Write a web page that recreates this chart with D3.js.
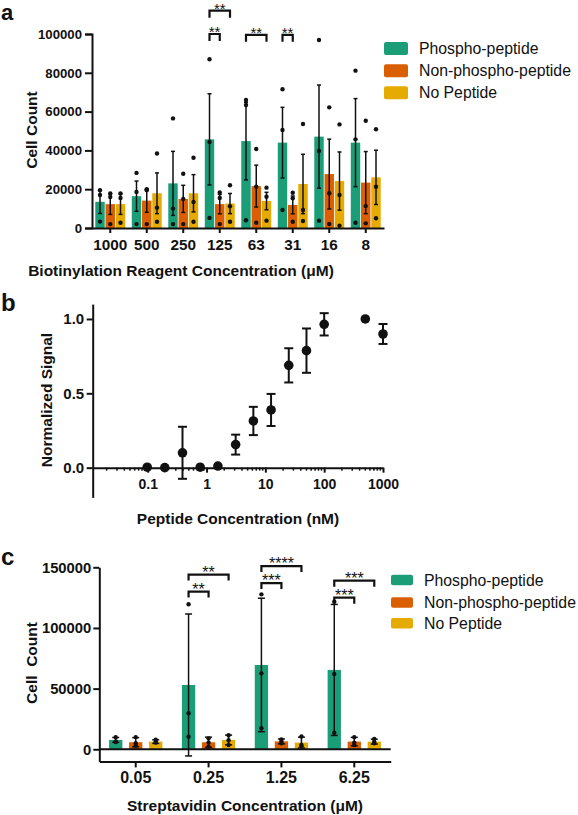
<!DOCTYPE html>
<html>
<head>
<meta charset="utf-8">
<script src="https://cdn.jsdelivr.net/npm/d3@7"></script>
<style>
  html, body { margin: 0; padding: 0; background: #fff; }
  svg { display: block; }
  text { font-family: "Liberation Sans", Arial, Helvetica, sans-serif; fill: #111; }
</style>
</head>
<body>
<svg id="chart" width="578" height="815"></svg>
<script>
// ---------------- DATA ----------------
const seriesNames = ["Phospho-peptide", "Non-phospho-peptide", "No Peptide"];
const seriesColors = ["#1b9e77", "#d95f02", "#e6ab02"];

// Panel a
const catsA = ["1000", "500", "250", "125", "63", "31", "16", "8"];
const yTicksA = [0, 20000, 40000, 60000, 80000, 100000];
const phosphoMeanA = [13500, 16400, 23000, 45700, 44800, 44000, 47100, 44000];
const phosphoErrA  = [6000, 7800, 16500, 23500, 20000, 18200, 26600, 22700];
const phosphoPtsA  = [[19500,17000,3300],[28400,18600,2000],[56500,10000,2000],[87000,44300,5200],[66000,63400,4000],[71500,50500,9300],[96900,39700,3800],[81100,45700,2700]];
const nonPhosMeanA = [12300, 14100, 15000, 12300, 21600, 11900, 27800, 23400];
const nonPhosErrA  = [5300, 6000, 7000, 5000, 10800, 4600, 18000, 16000];
const nonPhosPtsA  = [[17800,16000,2000],[20000,19500,2000],[28000,15000,2000],[18300,15500,2000],[40700,21300,2700],[18200,15300,3200],[62200,17900,2100],[55300,11300,2400]];
const noPepMeanA   = [12300, 17900, 17900, 12600, 13900, 22700, 24200, 26100];
const noPepErrA    = [5300, 10500, 9600, 5200, 4500, 15300, 15000, 14000];
const noPepPtsA    = [[17800,15500,2700],[38400,10500,3200],[36200,13400,3200],[22000,11200,3200],[20800,16100,3800],[53600,9300,3600],[53400,17000,1200],[50900,21300,5000]];
const bracketsA = [
  { cat: "125", from: 0, to: 1, level: 100000, label: "**" },
  { cat: "125", from: 0, to: 2, level: 112000, label: "**" },
  { cat: "63",  from: 0, to: 2, level: 99600,  label: "**" },
  { cat: "31",  from: 0, to: 1, level: 99600,  label: "**" }
];

// Panel b
const peptideConc = [0.098, 0.195, 0.39, 0.78, 1.56, 3.125, 6.25, 12.5, 25, 50, 100, 500, 1000];
const normSignal  = [0.003, 0.0, 0.10, 0.003, 0.011, 0.155, 0.314, 0.388, 0.688, 0.787, 0.964, 1.0, 0.899];
const normErr     = [0, 0, 0.175, 0, 0, 0.067, 0.095, 0.108, 0.115, 0.149, 0.075, 0, 0.067];
const xTicksB = [0.1, 1, 10, 100, 1000];
const yTicksB = [0, 0.5, 1.0];

// Panel c
const catsC = ["0.05", "0.25", "1.25", "6.25"];
const yTicksC = [0, 50000, 100000, 150000];
const phosphoMeanC = [7700, 53000, 69500, 65400];
const phosphoErrC  = [2000, 58500, 55000, 54000];
const phosphoPtsC  = [[10000,6500,6000],[119500,29700,10400],[127700,62600,17300],[121700,62000,13700]];
const nonPhosMeanC = [5800, 5800, 6500, 6300];
const nonPhosErrC  = [3800, 4200, 2000, 3500];
const nonPhosPtsC  = [[10000,5000,3000],[9000,5500,2200],[8000,6500,5000],[10000,5500,3500]];
const noPepMeanC   = [6300, 7700, 5500, 6300];
const noPepErrC    = [1500, 4000, 4500, 2000];
const noPepPtsC    = [[7800,6000,5500],[11500,7500,3500],[10500,3500,2500],[8500,6000,5000]];
const bracketsC = [
  { cat: "0.25", from: 0, to: 1, level: 130000, label: "**" },
  { cat: "0.25", from: 0, to: 2, level: 144000, label: "**" },
  { cat: "1.25", from: 0, to: 1, level: 137000, label: "***" },
  { cat: "1.25", from: 0, to: 2, level: 151000, label: "****" },
  { cat: "6.25", from: 0, to: 1, level: 125000, label: "***" },
  { cat: "6.25", from: 0, to: 2, level: 139000, label: "***" }
];

// ---------------- DRAW ----------------
const svg = d3.select("#chart");
svg.append("rect").attr("width", 578).attr("height", 815).attr("fill", "#fff");

function styleAxis(g, fontSize, sw) {
  g.select(".domain").attr("stroke", "#111").attr("stroke-width", sw);
  g.selectAll(".tick line").attr("stroke", "#111").attr("stroke-width", sw);
  g.selectAll(".tick text").attr("font-size", fontSize).attr("font-weight", "bold").attr("fill", "#111");
}

function buildRows(cats, means, errs, pts) {
  const rows = [];
  cats.forEach((c, i) => {
    means.forEach((m, s) => {
      rows.push({ cat: c, s: s, mean: m[i], err: errs[s][i], pts: pts[s][i] });
    });
  });
  return rows;
}

function drawGrouped(opts) {
  const { x, xs, y, rows, capW, r, ew, baseVal } = opts;
  const g = svg.append("g");
  const cx = d => x(d.cat) + xs(d.s) + xs.bandwidth() / 2;
  g.selectAll("rect.bar").data(rows).enter().append("rect")
    .attr("x", d => x(d.cat) + xs(d.s))
    .attr("width", xs.bandwidth())
    .attr("y", d => y(d.mean))
    .attr("height", d => y(baseVal) - y(d.mean))
    .attr("fill", d => seriesColors[d.s]);
  rows.forEach(d => {
    const px = cx(d);
    g.append("line").attr("x1", px).attr("x2", px)
      .attr("y1", y(d.mean - d.err)).attr("y2", y(d.mean + d.err))
      .attr("stroke", "#111").attr("stroke-width", ew);
    [d.mean - d.err, d.mean + d.err].forEach(v => {
      g.append("line").attr("x1", px - capW / 2).attr("x2", px + capW / 2)
        .attr("y1", y(v)).attr("y2", y(v))
        .attr("stroke", "#111").attr("stroke-width", ew);
    });
    d.pts.forEach(v => {
      g.append("circle").attr("cx", px).attr("cy", y(v)).attr("r", r).attr("fill", "#111");
    });
  });
  return cx;
}

function drawBrackets(list, x, xs, y, leg, fs) {
  const g = svg.append("g");
  list.forEach(b => {
    const x1 = x(b.cat) + xs(b.from) + xs.bandwidth() / 2;
    const x2 = x(b.cat) + xs(b.to) + xs.bandwidth() / 2;
    const yb = y(b.level);
    g.append("path")
      .attr("d", `M${x1},${yb + leg}V${yb}H${x2}V${yb + leg}`)
      .attr("fill", "none").attr("stroke", "#111").attr("stroke-width", 2.2);
    g.append("text").attr("x", (x1 + x2) / 2).attr("y", yb + fs * 0.2)
      .attr("text-anchor", "middle").attr("font-size", fs).attr("font-weight", "normal")
      .style("fill", "#111").text(b.label);
  });
}

function legend(x0, yCenters, swW, swH, textX, fs) {
  const g = svg.append("g");
  seriesNames.forEach((n, i) => {
    g.append("rect").attr("x", x0).attr("y", yCenters[i] - swH / 2)
      .attr("width", swW).attr("height", swH).attr("rx", 2).attr("fill", seriesColors[i]);
    g.append("text").attr("x", textX).attr("y", yCenters[i]).attr("dy", "0.35em")
      .attr("font-size", fs).text(n);
  });
}

// ===== Panel a =====
(function () {
  const x = d3.scaleBand().domain(catsA).range([92, 384]).paddingInner(0.18).paddingOuter(0.09);
  const xs = d3.scaleBand().domain([0, 1, 2]).range([0, x.bandwidth()]).paddingInner(0.08);
  const y = d3.scaleLinear().domain([0, 100000]).range([228, 34]);
  const rows = buildRows(catsA, [phosphoMeanA, nonPhosMeanA, noPepMeanA],
    [phosphoErrA, nonPhosErrA, noPepErrA], [phosphoPtsA, nonPhosPtsA, noPepPtsA]);
  drawGrouped({ x, xs, y, rows, capW: 4, r: 2.2, ew: 1.5, baseVal: 0 });

  const ya = svg.append("g").attr("transform", "translate(92,0)")
    .call(d3.axisLeft(y).tickValues(yTicksA).tickSize(7).tickPadding(3).tickFormat(d3.format("d")));
  styleAxis(ya, 13.2, 2);
  const xa = svg.append("g").attr("transform", "translate(0,228)")
    .call(d3.axisBottom(x).tickSize(5).tickPadding(6.5).tickSizeOuter(0));
  styleAxis(xa, 15.3, 2);

  drawBrackets(bracketsA, x, xs, y, 7, 15);
  legend(384, [48.5, 70.7, 92.7], 24, 13, 419, 15.8);

  svg.append("text").attr("transform", "translate(36.5,130) rotate(-90)")
    .attr("text-anchor", "middle").attr("font-size", 15.5).attr("font-weight", "bold").text("Cell Count");
  svg.append("text").attr("x", 181).attr("y", 275.5).attr("text-anchor", "middle")
    .attr("font-size", 15.5).attr("font-weight", "bold").text("Biotinylation Reagent Concentration (μM)");
  svg.append("text").attr("x", 1).attr("y", 20).attr("font-size", 22).attr("font-weight", "bold").text("a");
})();

// ===== Panel b =====
(function () {
  const x = d3.scaleLog().domain([0.0116, 1000]).range([92.7, 383]);
  const y = d3.scaleLinear().domain([-0.2, 1.1]).range([497.4, 304.1]);
  const g = svg.append("g");

  // minor ticks
  const minor = [];
  [0.01, 0.1, 1, 10, 100].forEach(dec => {
    for (let k = 2; k <= 9; k++) { const v = k * dec; if (v >= 0.0116 && v <= 1000) minor.push(v); }
  });
  g.selectAll("line.minor").data(minor).enter().append("line")
    .attr("x1", d => x(d)).attr("x2", d => x(d))
    .attr("y1", y(0)).attr("y2", y(0) + 3)
    .attr("stroke", "#111").attr("stroke-width", 1.5);

  const xa = svg.append("g").attr("transform", `translate(0,${y(0)})`)
    .call(d3.axisBottom(x).tickValues(xTicksB).tickSize(5).tickPadding(6.5).tickSizeOuter(0)
      .tickFormat(d => d >= 1 ? d3.format("d")(d) : String(d)));
  styleAxis(xa, 14, 2);
  const ya = svg.append("g").attr("transform", "translate(92.7,0)")
    .call(d3.axisLeft(y).tickValues(yTicksB).tickSize(6).tickPadding(2.5).tickSizeOuter(0)
      .tickFormat(d3.format(".1f")));
  styleAxis(ya, 15, 2);

  peptideConc.forEach((c, i) => {
    const px = x(c);
    if (normErr[i] > 0) {
      g.append("line").attr("x1", px).attr("x2", px)
        .attr("y1", y(normSignal[i] - normErr[i])).attr("y2", y(normSignal[i] + normErr[i]))
        .attr("stroke", "#111").attr("stroke-width", 2);
      [normSignal[i] - normErr[i], normSignal[i] + normErr[i]].forEach(v => {
        g.append("line").attr("x1", px - 4.5).attr("x2", px + 4.5).attr("y1", y(v)).attr("y2", y(v))
          .attr("stroke", "#111").attr("stroke-width", 2);
      });
    }
    g.append("circle").attr("cx", px).attr("cy", y(normSignal[i])).attr("r", 4.8).attr("fill", "#111");
  });

  svg.append("text").attr("transform", "translate(52,400) rotate(-90)")
    .attr("text-anchor", "middle").attr("font-size", 15.5).attr("font-weight", "bold").text("Normalized Signal");
  svg.append("text").attr("x", 238).attr("y", 524).attr("text-anchor", "middle")
    .attr("font-size", 15.5).attr("font-weight", "bold").text("Peptide Concentration (nM)");
  svg.append("text").attr("x", 1).attr("y", 311).attr("font-size", 24).attr("font-weight", "bold").text("b");
})();

// ===== Panel c =====
(function () {
  const x = d3.scaleBand().domain(catsC).range([99.3, 390.7]).paddingInner(0.268).paddingOuter(0.134);
  const xs = d3.scaleBand().domain([0, 1, 2]).range([0, x.bandwidth()]).paddingInner(0.335);
  const y = d3.scaleLinear().domain([-10000, 150000]).range([761.4, 567.3]);
  const rows = buildRows(catsC, [phosphoMeanC, nonPhosMeanC, noPepMeanC],
    [phosphoErrC, nonPhosErrC, noPepErrC], [phosphoPtsC, nonPhosPtsC, noPepPtsC]);
  drawGrouped({ x, xs, y, rows, capW: 7, r: 2.2, ew: 1.5, baseVal: 0 });

  // zero line
  svg.append("line").attr("x1", 99.3).attr("x2", 390.7).attr("y1", y(0)).attr("y2", y(0))
    .attr("stroke", "#111").attr("stroke-width", 2);

  const ya = svg.append("g").attr("transform", "translate(99.3,0)")
    .call(d3.axisLeft(y).tickValues(yTicksC).tickSize(6).tickPadding(2).tickSizeOuter(0).tickFormat(d3.format("d")));
  styleAxis(ya, 14.8, 2);
  const xa = svg.append("g").attr("transform", `translate(0,${y(-10000)})`)
    .call(d3.axisBottom(x).tickSize(6).tickPadding(4).tickSizeOuter(0));
  styleAxis(xa, 16, 2);

  drawBrackets(bracketsC, x, xs, y, 6, 16);
  legend(391, [580, 602.5, 623.3], 22, 10.5, 424, 15.8);

  svg.append("text").attr("transform", "translate(36.5,663) rotate(-90)")
    .attr("text-anchor", "middle").attr("font-size", 15.5).attr("font-weight", "bold")
    .attr("xml:space", "preserve").style("white-space", "pre").text("Cell  Count");
  svg.append("text").attr("x", 245).attr("y", 810.5).attr("text-anchor", "middle")
    .attr("font-size", 15.5).attr("font-weight", "bold").text("Streptavidin Concentration (μM)");
  svg.append("text").attr("x", 1).attr("y", 565).attr("font-size", 24).attr("font-weight", "bold").text("c");
})();
</script>
</body>
</html>
